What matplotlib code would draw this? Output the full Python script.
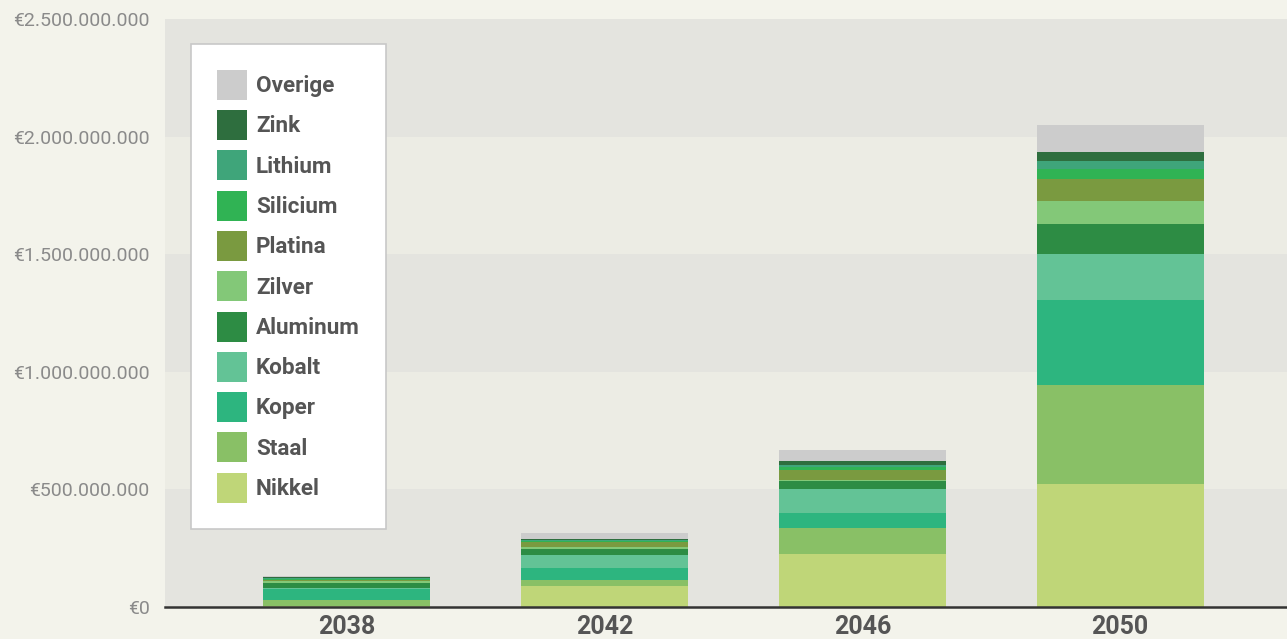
import numpy as np
import matplotlib.pyplot as plt
from matplotlib.patches import Patch

plt.rcParams['font.family'] = ['Roboto', 'DejaVu Sans']

years = ['2038', '2042', '2046', '2050']

# stack order: bottom to top, values in euro
materials = ['Nikkel', 'Staal', 'Koper', 'Kobalt', 'Aluminum', 'Zilver',
             'Platina', 'Silicium', 'Lithium', 'Zink', 'Overige']
nikkel   = [3e6,  90e6, 225e6, 523e6]
staal    = [28e6, 26e6, 111e6, 421e6]
koper    = [44e6, 51e6,  64e6, 361e6]
kobalt   = [4e6,  54e6, 102e6, 196e6]
aluminum = [25e6, 26e6,  35e6, 128e6]
zilver   = [7e6,  10e6,   2e6,  98e6]
platina  = [4e6,  21e6,  43e6,  91e6]
silicium = [5e6,   3e6,  15e6,  43e6]
lithium  = [5e6,   3e6,   6e6,  37e6]
zink     = [2e6,   7e6,  18e6,  37e6]
overige  = [6e6,  23e6,  46e6, 116e6]
series = [nikkel, staal, koper, kobalt, aluminum, zilver,
          platina, silicium, lithium, zink, overige]

colors = ['#bfd678', '#89c066', '#2db57f', '#63c396', '#2d8c44', '#83c878',
          '#7a9a40', '#30b354', '#3fa57a', '#2e6e3e', '#cccccc']

ymax = 2.5e9
yticks = np.arange(0, ymax + 1, 5e8)
ytick_labels = ['€0', '€500.000.000', '€1.000.000.000', '€1.500.000.000',
                '€2.000.000.000', '€2.500.000.000']

fig = plt.figure(figsize=(12.87, 6.39), dpi=100, facecolor='#f3f3eb')
ax = fig.add_axes([165 / 1287, 1 - 607 / 639, 1 - 165 / 1287, 588 / 639])
ax.set_facecolor('#f3f3eb')

# alternating horizontal bands
for i in range(len(yticks) - 1):
    ax.axhspan(yticks[i], yticks[i + 1],
               color='#e4e4df' if i % 2 == 0 else '#ecece4', zorder=0, lw=0)

x = np.arange(len(years))
bottom = np.zeros(len(years))
for vals, c in zip(series, colors):
    ax.bar(x, vals, bottom=bottom, width=0.648, color=c, lw=0, zorder=2)
    bottom += np.array(vals)

ax.set_xlim(-0.706, 3.648)
ax.set_ylim(0, ymax)
ax.set_yticks(yticks)
ax.set_yticklabels(ytick_labels, fontsize=14, color='#8a8a8a')
ax.set_xticks(x)
ax.set_xticklabels(years, fontsize=18, fontweight='bold', color='#555555')
ax.tick_params(axis='y', length=0, pad=11)
ax.tick_params(axis='x', length=0, pad=6)

for s in ['top', 'right', 'left']:
    ax.spines[s].set_visible(False)
ax.spines['bottom'].set_color('#333333')
ax.spines['bottom'].set_linewidth(1.8)
ax.spines['bottom'].set_zorder(3)

handles = [Patch(facecolor=c, edgecolor='none', label=m)
           for m, c in zip(materials, colors)][::-1]
leg = fig.legend(handles=handles, loc='upper left',
                 bbox_to_anchor=(191 / 1287, 1 - 44 / 639),
                 bbox_transform=fig.transFigure, borderaxespad=0,
                 frameon=True, fancybox=False, framealpha=1,
                 edgecolor='#c8c8c8', facecolor='white',
                 prop={'size': 16.2, 'weight': 'semibold'},
                 handlelength=1.32, handleheight=1.67, handletextpad=0.42,
                 labelspacing=0.46, borderpad=1.15)
leg.get_frame().set_linewidth(1.2)
for t in leg.get_texts():
    t.set_color('#555555')

fig.savefig('out.png', dpi=100, facecolor=fig.get_facecolor())
